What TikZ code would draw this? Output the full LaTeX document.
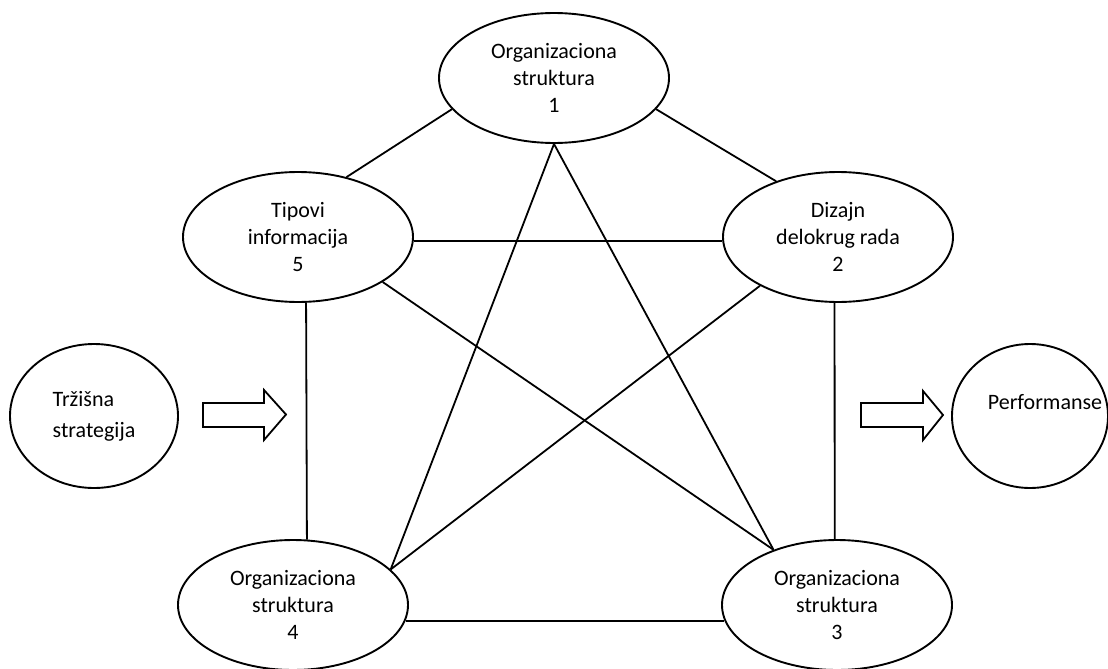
\documentclass[tikz,border=0pt]{standalone}
\usepackage{fontspec}
\setmainfont{Carlito}
\usetikzlibrary{shapes.geometric}
\begin{document}
\begin{tikzpicture}[x=1pt,y=-1pt,
  oval/.style={ellipse, draw, line width=1.9pt, minimum width=230pt, minimum height=130pt,
    inner sep=0pt, align=center, font=\fontsize{22}{27}\selectfont},
  roundbox/.style={ellipse, draw, line width=1.9pt, inner sep=0pt,
    font=\fontsize{22}{31}\selectfont},
  lbl/.style={font=\fontsize{22}{27}\selectfont, inner sep=0pt},
  link/.style={line width=1.8pt},
  bigarrow/.style={draw, line width=1.8pt, line join=miter}]
\useasboundingbox (0,0) rectangle (1108,669);
\fill[white] (0,0) rectangle (1108,669);

% ovals
\node[oval] (e1) at (554,78) {Organizaciona\\struktura\\1};
\node[oval] (e5) at (298,237) {Tipovi\\informacija\\5};
\node[oval] (e2) at (838,237) {Dizajn\\delokrug rada\\2};
\node[oval] (e4) at (293,605) {Organizaciona\\struktura\\4};
\node[oval] (e3) at (837,605) {Organizaciona\\struktura\\3};

% side circles
\node[roundbox, minimum width=168pt, minimum height=144pt, align=left] (ts) at (94,416)
  {Tržišna\\strategija};
\node[roundbox, minimum width=156pt, minimum height=144pt,
  label={[lbl, xshift=15pt, yshift=14pt]center:Performanse}] (pf) at (1030,416) {};

% block arrows
\draw[bigarrow] (203,403) -- (264,403) -- (264,390) -- (286,414.5) -- (264,440)
  -- (264,427) -- (203,427) -- cycle;
\draw[bigarrow] (861,403) -- (923,403) -- (923,391) -- (943,415) -- (923,440)
  -- (923,427) -- (861,427) -- cycle;

% connectors
\draw[link] (e1.197.7) -- (e5.51.9);
\draw[link] (e1.343) -- (e2.138.4);
\draw[link] (e5.-2.5) -- (e2.182.5);
\draw[link] (e5.-83) -- (e4.78.5);
\draw[link] (e2.267.4) -- (e3.92);
\draw[link] (e4.-8.4) -- (e3.188);
\draw[link] (e1.south) -- (e4.20);
\draw[link] (e1.south) -- (e3.139);
\draw[link] (e2.212.7) -- (e4.20);
\draw[link] (e5.-28.7) -- (e3.139);
\end{tikzpicture}
\end{document}
